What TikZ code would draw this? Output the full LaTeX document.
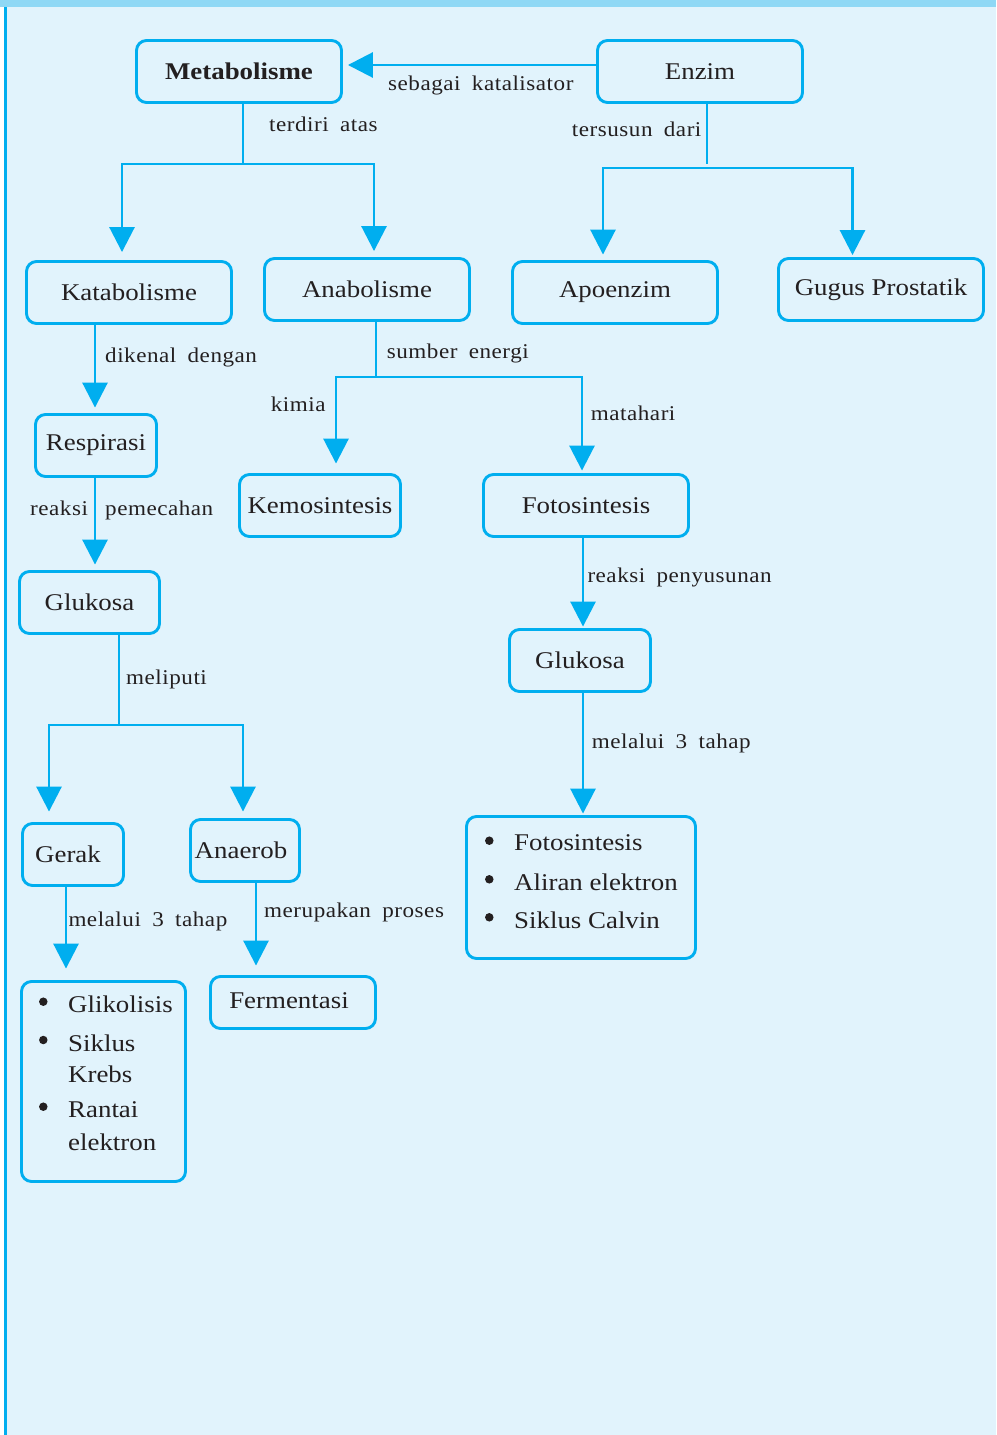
\documentclass[tikz,border=0pt]{standalone}
\usepackage{fontspec}
\setmainfont{Liberation Serif}
\newfontfamily\boxfam{Liberation Serif}[FakeStretch=1.12]
\newfontfamily\lblfam{Liberation Serif}[FakeStretch=1.1,LetterSpace=2.5,WordSpace=1.8]
\usetikzlibrary{arrows.meta}
\definecolor{cy}{HTML}{00AEEF}
\definecolor{bg}{HTML}{E1F3FC}
\definecolor{topbar}{HTML}{8FD8F5}
\definecolor{txt}{HTML}{231F20}
\newcommand{\boxfnt}{\boxfam\fontsize{24}{28}\selectfont}
\newcommand{\lblfnt}{\lblfam\fontsize{21}{25}\selectfont}
\begin{document}
\begin{tikzpicture}[x=1pt,y=-1pt,
  box/.style={draw=cy,line width=2.9pt,rounded corners=10pt,inner sep=0pt,font=\boxfnt,text=txt},
  sz/.style 2 args={minimum width=#1pt,minimum height=#2pt},
  lbl/.style={font=\lblfnt,text=txt,inner sep=0pt,anchor=base west},
  itm/.style={font=\boxfnt,text=txt,inner sep=0pt,anchor=base west},
  dot/.style={circle,fill=txt,inner sep=0pt,minimum size=8.5pt},
  conn/.style={draw=cy,line width=2.9pt},
  arr/.style={conn,-{Triangle[width=25pt,length=25pt]}},
]
\useasboundingbox (0,0) rectangle (996,1435);
\fill[white] (0,0) rectangle (996,1435);
\fill[bg] (4,7) rectangle (996,1435);
\fill[topbar] (0,0) rectangle (996,7);
\fill[cy] (4,7) rectangle (7,1435);

% boxes
\node[box,sz={205}{62},font=\boxfnt\bfseries] (metab) at (239,71.5) {Metabolisme};
\node[box,sz={205}{62}] (enzim) at (700,71.5) {Enzim};
\node[box,sz={205}{62}] (katab) at (129,292.5) {Katabolisme};
\node[box,sz={205}{62}] (anab) at (367,289.5) {Anabolisme};
\node[box,sz={205}{62}] (apo) at (615,292.5) {Apoenzim};
\node[box,sz={205}{62}] (gugus) at (881,289.5) {Gugus Prostatik};
\node[box,sz={121}{62}] (resp) at (96,445.5) {Respirasi};
\node[box,sz={161}{62}] (kemo) at (320,505.5) {Kemosintesis};
\node[box,sz={205}{62}] (foto) at (586,505.5) {Fotosintesis};
\node[box,sz={140}{62}] (gluk1) at (89.5,602.5) {Glukosa};
\node[box,sz={141}{62}] (gluk2) at (580,660.5) {Glukosa};
\node[box,sz={101}{62}] (gerak) at (73,854.5) {\hspace*{-10pt}Gerak};
\node[box,sz={109}{62}] (anaer) at (245,850.5) {\hspace*{-8pt}Anaerob};
\node[box,sz={165}{52}] (ferm) at (293,1002.5) {\raisebox{4pt}{Fermentasi}\hspace*{8pt}};
\node[box,sz={164}{200}] (list1) at (103.5,1081.5) {};
\node[box,sz={229}{142}] (list2) at (581,887.5) {};

% list items
\node[dot] (b21) at (489.3,840.7) {};
\node[itm] (t21) at (514,850.7) {Fotosintesis};
\node[dot] (b22) at (489.3,879.3) {};
\node[itm] (t22) at (514,890) {Aliran elektron};
\node[dot] (b23) at (489.3,917.3) {};
\node[itm] (t23) at (514,928.3) {Siklus Calvin};

\node[dot] (b11) at (43.3,1001.7) {};
\node[itm] (t11) at (68,1012.3) {Glikolisis};
\node[dot] (b12) at (43.3,1040) {};
\node[itm] (t12) at (68,1051) {Siklus};
\node[itm] (t12b) at (68,1082.7) {Krebs};
\node[dot] (b13) at (43.3,1106.7) {};
\node[itm] (t13) at (68,1117.7) {Rantai};
\node[itm] (t13b) at (68,1150) {elektron};

% connectors
\draw[arr] ([yshift=6.5pt]enzim.west) -- ([xshift=5pt,yshift=6.5pt]metab.east);
\node[lbl] (l1) at (388,90) {sebagai katalisator};

\coordinate (jm) at (243,164);
\draw[conn] (metab.south -| jm) -- (jm);
\draw[arr] (jm) -| ([xshift=-7pt,yshift=8pt]katab.north);
\draw[arr] (jm) -| ([xshift=7pt,yshift=6pt]anab.north);
\node[lbl] (l2) at (269,131.7) {terdiri atas};

\coordinate (je) at (707,164);
\coordinate (je2) at (707,168);
\draw[conn] (enzim.south -| je) -- (je);
\draw[arr] (je2) -| ([xshift=-12pt,yshift=5.5pt]apo.north);
\draw[arr] (je2) -| ([xshift=-28.5pt,yshift=2pt]gugus.north);
\node[lbl] (l3) at (571.7,136) {tersusun dari};

\draw[arr] ([xshift=-34pt]katab.south) -- ([xshift=-1pt,yshift=5.5pt]resp.north);
\node[lbl] (l4) at (105,362.7) {dikenal dengan};

\draw[arr] ([xshift=-1pt]resp.south) -- ([xshift=5.5pt,yshift=5.5pt]gluk1.north);
\node[lbl] (l5) at (30,515) {reaksi};
\node[lbl] (l6) at (105,515) {pemecahan};

\coordinate (jg) at (119,725);
\draw[conn] (gluk1.south -| jg) -- (jg);
\draw[arr] (jg) -| ([xshift=-24pt,yshift=10.5pt]gerak.north);
\draw[arr] (jg) -| ([xshift=-2pt,yshift=6.5pt]anaer.north);
\node[lbl] (l7) at (126,684) {meliputi};

\draw[arr] ([xshift=-7pt]gerak.south) -- ([xshift=-37.5pt,yshift=11.5pt]list1.north);
\node[lbl] (l8) at (68.3,926.7) {melalui 3 tahap};

\draw[arr] ([xshift=11pt]anaer.south) -- ([xshift=-37pt,yshift=9.5pt]ferm.north);
\node[lbl] (l9) at (264,917.3) {merupakan proses};

\coordinate (ja) at (376,377);
\draw[conn] (anab.south -| ja) -- (ja);
\draw[arr] (ja) -| ([xshift=16pt,yshift=9.5pt]kemo.north);
\draw[arr] (ja) -| ([xshift=-4pt,yshift=2.5pt]foto.north);
\node[lbl] (l10) at (386.7,358.3) {sumber energi};
\node[lbl] (l11) at (270.7,411.7) {kimia};
\node[lbl] (l12) at (590.7,420.7) {matahari};

\draw[arr] ([xshift=-3pt]foto.south) -- ([xshift=3pt,yshift=1.5pt]gluk2.north);
\node[lbl] (l13) at (587.3,582.3) {reaksi penyusunan};

\draw[arr] ([xshift=3pt]gluk2.south) -- ([xshift=2pt,yshift=1.5pt]list2.north);
\node[lbl] (l14) at (591.7,748.3) {melalui 3 tahap};
\end{tikzpicture}
\end{document}
